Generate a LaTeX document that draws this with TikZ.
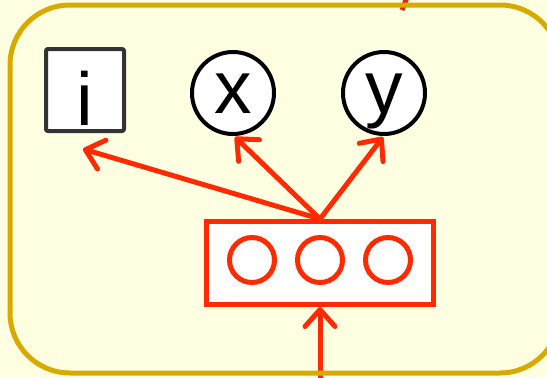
\documentclass[tikz,border=0pt]{standalone}
\usepackage{fontspec}
\setmainfont{Liberation Sans}
\usetikzlibrary{arrows.meta}
\definecolor{bgyellow}{HTML}{FFFFE2}
\definecolor{framegold}{HTML}{D8AA00}
\definecolor{netred}{HTML}{FF2A00}
\definecolor{boxgray}{HTML}{333333}

\begin{document}
\begin{tikzpicture}[x=1pt, y=-1pt,
				var/.style={circle, draw=black, fill=white, line width=4pt, minimum size=82pt, inner sep=0pt, font=\fontsize{75}{75}\selectfont, text height=40pt, text depth=0pt},
				idx/.style={rectangle, rounded corners=2pt, draw=boxgray, fill=white, line width=4pt, minimum width=78pt, minimum height=82pt, inner sep=0pt, font=\fontsize{75}{75}\selectfont, text height=70pt, text depth=0pt},
				unit/.style={circle, draw=netred, line width=5pt, minimum size=45pt, inner sep=0pt},
				layer/.style={rectangle, draw=netred, fill=white, line width=5pt, minimum width=227pt, minimum height=83pt, inner sep=0pt},
				wire/.style={draw=netred, line width=5pt, line cap=round, -{Straight Barb[length=17pt, width=30pt, round]}}
				]
				
				\useasboundingbox (0,0) rectangle (547,378);
				\fill[bgyellow] (0,0) rectangle (547,378);
				\fill[bgyellow] (10,5) [rounded corners=60pt] rectangle (560,373);
				
				\node[idx] (i) at (85,90) {i};
				\node[var] (x) at (233,93) {x};
				\node[var] (y) at (384,93) {y};
				
				\node[layer] (h) at (320,263) {};
				\node[unit] (h1) at (252,260) {};
				\node[unit] (h2) at (320,260) {};
				\node[unit] (h3) at (388,260) {};
				
				\coordinate (in) at (320,385);
				\coordinate (outa) at (408,-5);
				\coordinate (outb) at (402,10);
				
				\draw[wire] (in) -- (h.south);
				\draw[wire] (h.north) -- ([xshift=-2pt, yshift=-16pt]i.south);
				\draw[wire] (h.north) -- ([xshift=2pt, yshift=-1pt]x.south);
				\draw[wire] (h.north) -- ([xshift=-1pt, yshift=-1pt]y.south);
				\draw[draw=netred!90!black, line width=5pt] (outa) -- (outb);
				
				\draw[framegold, line width=5pt, rounded corners=60pt] (10,5) rectangle (560,373);
				
			\end{tikzpicture}
\end{document}
